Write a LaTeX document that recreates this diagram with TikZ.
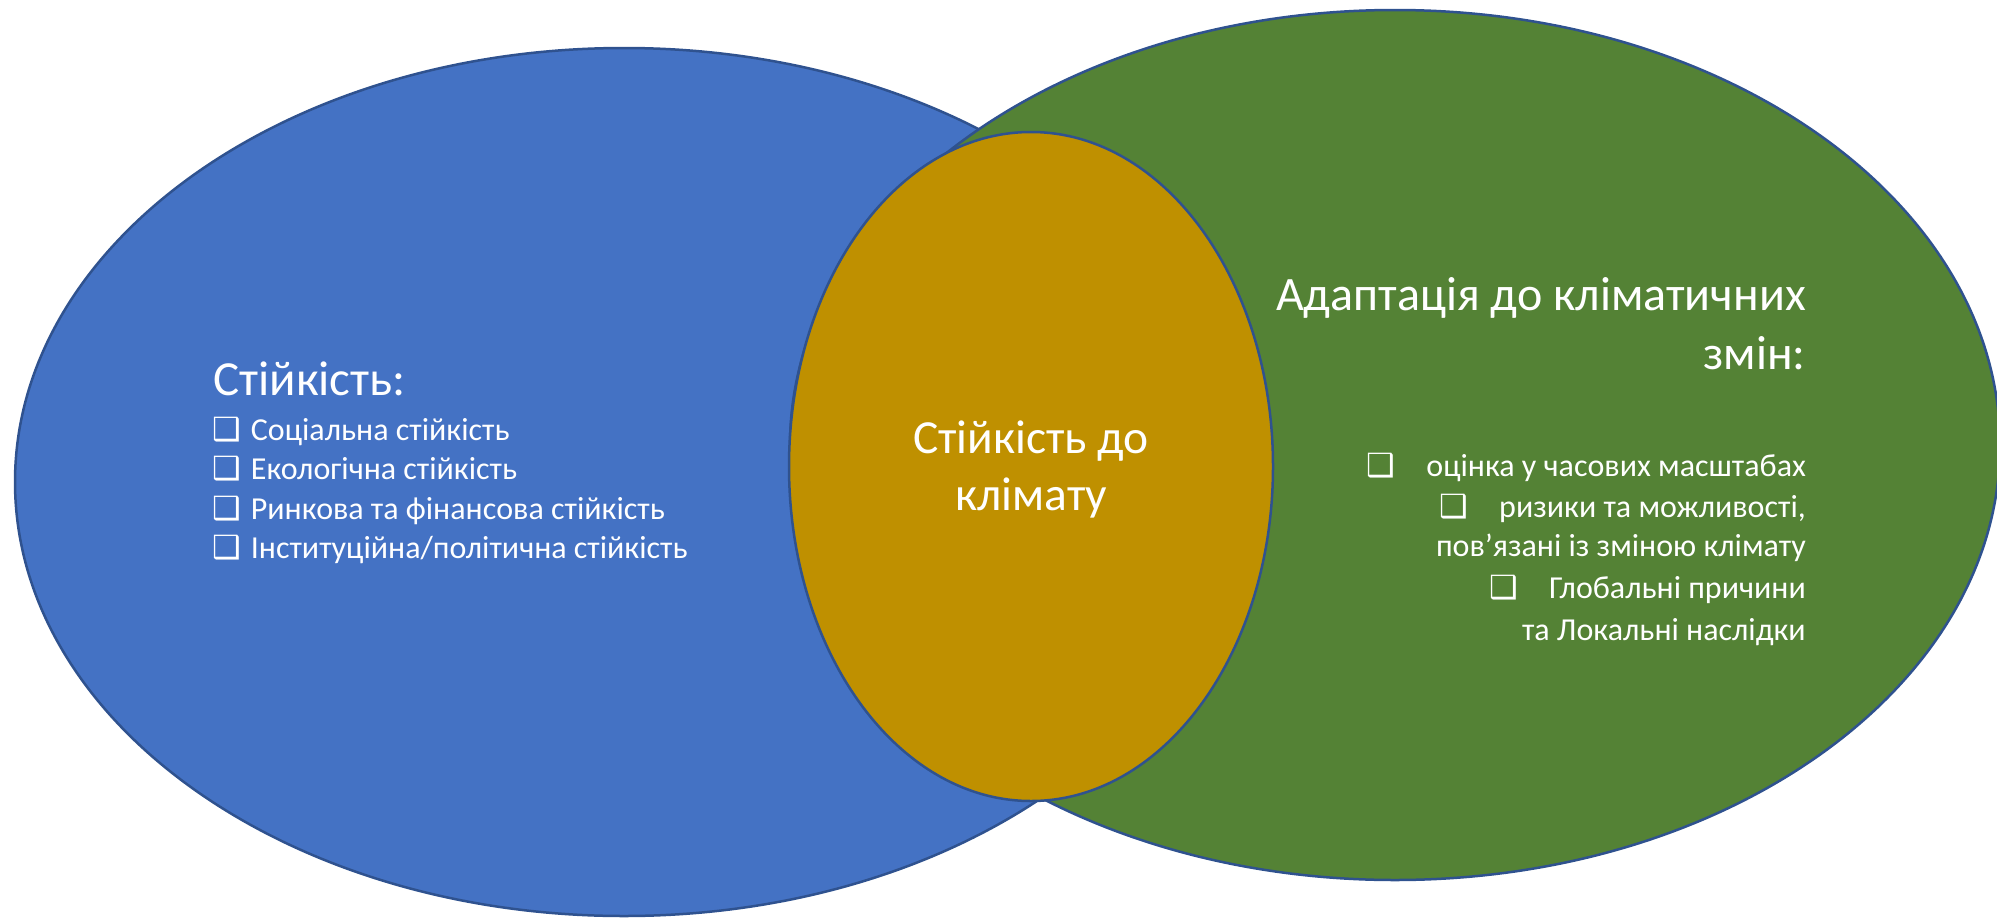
\documentclass[tikz,border=0pt]{standalone}
\usepackage{fontspec}
\setmainfont{Carlito}
\newfontfamily\symfont{DejaVu Sans}
\definecolor{cblue}{HTML}{4472C4}
\definecolor{cgreen}{HTML}{548235}
\definecolor{cgold}{HTML}{BF9000}
\definecolor{cline}{HTML}{2F528F}
\newcommand{\bx}{{\symfont ❑}}
\tikzset{
  venn/.style={draw=cline, line width=2.5pt},
  txt/.style={text=white, inner sep=0pt},
  big/.style={font=\fontsize{49}{59}\selectfont},
  mid/.style={font=\fontsize{47.5}{57}\selectfont},
  head/.style={font=\fontsize{48}{59}\selectfont},
  litem/.style={font=\fontsize{32}{39}\selectfont},
  ritem/.style={font=\fontsize{32}{41}\selectfont}
}
\begin{document}
\begin{tikzpicture}[x=1pt,y=-1pt]
\useasboundingbox (0,0) rectangle (1997,921);
\path[venn, fill=cblue] (624,482) ellipse [x radius=609, y radius=434];
\path[venn, fill=cgreen] (1395,445) ellipse [x radius=605, y radius=435];
\path[venn, fill=cgold] (1031,466.5) ellipse [x radius=242, y radius=334.5];

\node[txt, big, anchor=base west] (lt) at (213,395) {Стійкість:};
\node[txt, litem, anchor=base west] (l1) at (212,440) {\bx\hspace{10pt}Соціальна стійкість};
\node[txt, litem, anchor=base west] (l2) at (212,479) {\bx\hspace{10pt}Екологічна стійкість};
\node[txt, litem, anchor=base west] (l3) at (212,519) {\bx\hspace{10pt}Ринкова та фінансова стійкість};
\node[txt, litem, anchor=base west] (l4) at (212,558) {\bx\hspace{10pt}Інституційна/політична стійкість};

\node[txt, mid, anchor=base] (c1) at (1031,453) {Стійкість до};
\node[txt, mid, anchor=base] (c2) at (1031,510) {клімату};

\node[txt, head, anchor=base east] (r0) at (1806,310) {Адаптація до кліматичних};
\node[txt, head, anchor=base east] (r00) at (1806,369) {змін:};
\node[txt, ritem, anchor=base east] (r1) at (1806,476) {\bx\hspace{31pt}оцінка у часових масштабах};
\node[txt, ritem, anchor=base east] (r2) at (1806,517) {\bx\hspace{31pt}ризики та можливості,};
\node[txt, ritem, anchor=base east] (r3) at (1806,556) {пов’язані із зміною клімату};
\node[txt, ritem, anchor=base east] (r4) at (1806,598) {\bx\hspace{31pt}Глобальні причини};
\node[txt, ritem, anchor=base east] (r5) at (1806,640) {та Локальні наслідки};
\end{tikzpicture}
\end{document}
